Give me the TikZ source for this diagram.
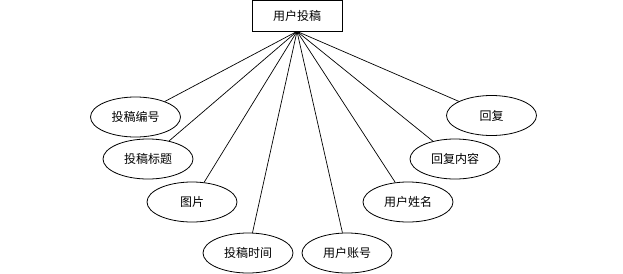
\documentclass[tikz,border=0pt]{standalone}
\usepackage{fontspec}
\newfontfamily\cjk{Noto Sans CJK SC}
\usetikzlibrary{shapes.geometric}

\begin{document}
\begin{tikzpicture}[
    x = 1pt, y = -1pt,
    every node/.style = {font=\cjk\fontsize{12}{14}\selectfont},
    entity/.style = {
        rectangle,
        draw,
        line width=0.8pt,
        minimum width=90pt,
        minimum height=31pt,
        inner sep=0pt
    },
    attr/.style = {
        ellipse,
        draw,
        line width=0.8pt,
        minimum width=90pt,
        minimum height=40pt,
        inner sep=0pt
    },
    link/.style = {
        line width=0.7pt
    }
]
\useasboundingbox (0,0) rectangle (623,273);

%% Entity
\node[entity] (post) at (297,15.5) {用户投稿};

%% Attributes
\node[attr] (postid)    at (135.5,117)   {投稿编号};
\node[attr] (title)     at (148,159)     {投稿标题};
\node[attr] (picture)   at (192,202)     {图片};
\node[attr] (posttime)  at (248,253)     {投稿时间};
\node[attr] (account)   at (347,253)     {用户账号};
\node[attr] (username)  at (408,202)     {用户姓名};
\node[attr] (content)   at (455,159)     {回复内容};
\node[attr] (reply)     at (491.5,115.5) {回复};

%% Connectors
\foreach \a in {postid, title, picture, posttime, account, username, content, reply}
    \draw[link] (post.south) -- (\a);

\end{tikzpicture}
\end{document}
